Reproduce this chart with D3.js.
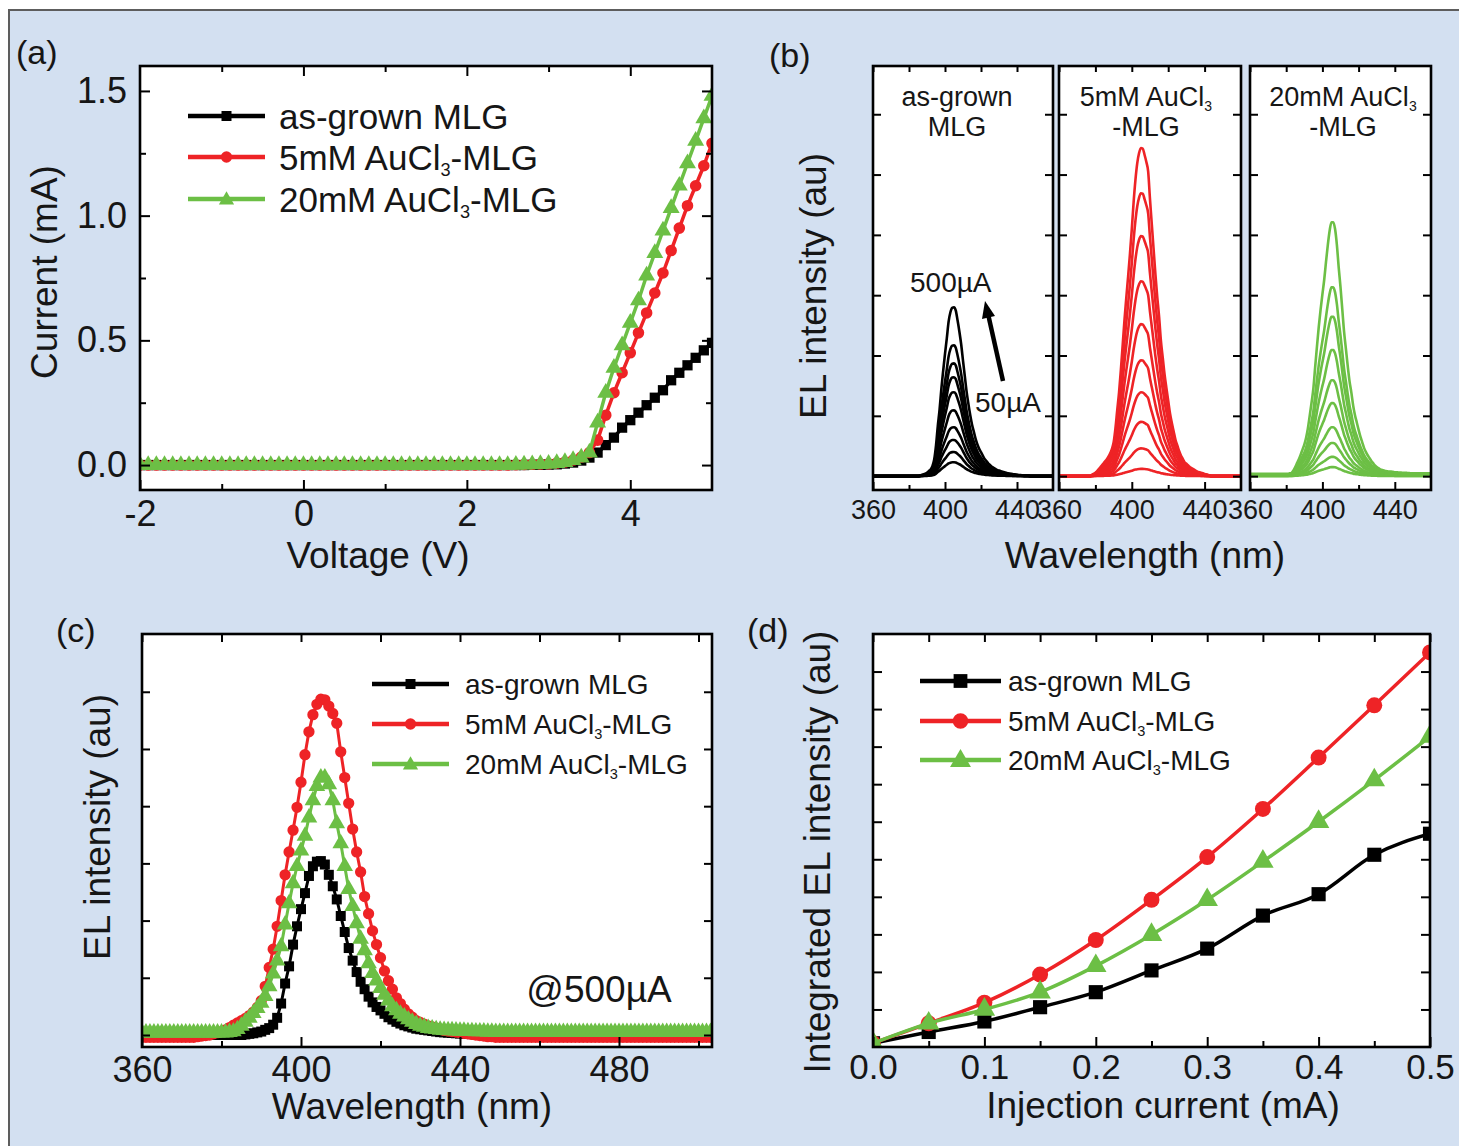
<!DOCTYPE html>
<html>
<head>
<meta charset="utf-8">
<script src="https://cdn.jsdelivr.net/npm/d3@7"></script>
<style>
  body { margin: 0; background: #fff; }
  svg { display: block; }
</style>
</head>
<body>
<svg id="fig" width="1459" height="1146"></svg>
<script>
// ------------------------------------------------------------------
// Data
// ------------------------------------------------------------------
// (a) I–V curves, -2 V … 5 V in 0.1 V steps
const ivVoltage = d3.range(71).map(i => Math.round((-2 + i * 0.1) * 10) / 10);
const ivBlack = [
  0,0,0,0,0,0,0,0,0,0,
  0,0,0,0,0,0,0,0,0,0,
  0,0,0,0,0,0,0,0,0,0,
  0,0,0,0,0,0,0,0,0,0,
  0,0,0,0,0,0,0,0,0.001,0.001,
  0.002,0.003,0.006,0.01,0.018,0.03,0.05,0.08,0.11,0.15,
  0.18,0.21,0.24,0.27,0.30,0.34,0.37,0.40,0.43,0.46,
  0.49];
const ivRed = [
  0,0,0,0,0,0,0,0,0,0,
  0,0,0,0,0,0,0,0,0,0,
  0,0,0,0,0,0,0,0,0,0,
  0,0,0,0,0,0,0,0,0,0,
  0,0,0,0,0,0,0.001,0.002,0.003,0.004,
  0.005,0.008,0.012,0.02,0.032,0.05,0.10,0.20,0.29,0.37,
  0.45,0.53,0.61,0.69,0.77,0.86,0.95,1.04,1.12,1.20,
  1.29];
const ivGreen = [
  0,0,0,0,0,0,0,0,0,0,
  0,0,0,0,0,0,0,0,0,0,
  0,0,0,0,0,0,0,0,0,0,
  0,0,0,0,0,0,0,0,0,0,
  0,0,0,0,0,0,0.001,0.002,0.003,0.004,
  0.005,0.008,0.012,0.02,0.03,0.05,0.17,0.29,0.39,0.48,
  0.57,0.66,0.76,0.85,0.94,1.03,1.12,1.21,1.30,1.39,
  1.48];

// (c) EL spectra at 500 µA, 360 … 503 nm in 1 nm steps
const wavelength = d3.range(360, 504);
const elBlack = [
  0,0,0,0,0,0,0,0,0,0,
  0,0,0,0,0,0,0,0,0,0,
  0,0,0,0,0,0,0.01,0.02,0.03,0.045,
  0.06,0.09,0.12,0.18,0.30,0.55,0.90,1.20,1.58,1.90,
  2.20,2.48,2.78,2.95,3.03,3.04,2.98,2.80,2.60,2.37,
  2.08,1.80,1.52,1.30,1.10,0.93,0.80,0.67,0.57,0.49,
  0.43,0.37,0.31,0.27,0.23,0.20,0.17,0.15,0.13,0.11,
  0.10,0.09,0.08,0.07,0.06,0.05,0.045,0.04,0.035,0.03,
  0.025,0.02,0.02,0.015,0.01,0.01,0.01,0.005,0,0,
  0,0,0,0,0,0,0,0,0,0,
  0,0,0,0,0,0,0,0,0,0,
  0,0,0,0,0,0,0,0,0,0,
  0,0,0,0,0,0,0,0,0,0,
  0,0,0,0,0,0,0,0,0,0,
  0,0,0,0];
const elRed = [
  -0.04,-0.04,-0.04,-0.04,-0.04,-0.04,-0.04,-0.04,-0.04,-0.04,
  -0.04,-0.04,-0.04,-0.04,-0.03,-0.02,-0.01,0,0.02,0.04,
  0.06,0.09,0.13,0.17,0.21,0.25,0.29,0.34,0.40,0.48,
  0.60,0.85,1.18,1.50,1.90,2.35,2.80,3.20,3.58,3.98,
  4.42,4.90,5.30,5.60,5.78,5.87,5.86,5.75,5.62,5.45,
  4.95,4.50,4.05,3.60,3.20,2.85,2.42,2.12,1.82,1.58,
  1.35,1.12,0.95,0.80,0.65,0.55,0.45,0.37,0.31,0.25,
  0.22,0.19,0.16,0.14,0.12,0.10,0.08,0.07,0.06,0.05,
  0.04,0.03,0.02,0.01,0,-0.01,-0.02,-0.03,-0.03,-0.04,
  -0.04,-0.04,-0.04,-0.04,-0.04,-0.04,-0.04,-0.04,-0.04,-0.04,
  -0.04,-0.04,-0.04,-0.04,-0.04,-0.04,-0.04,-0.04,-0.04,-0.04,
  -0.04,-0.04,-0.04,-0.04,-0.04,-0.04,-0.04,-0.04,-0.04,-0.04,
  -0.04,-0.04,-0.04,-0.04,-0.04,-0.04,-0.04,-0.04,-0.04,-0.04,
  -0.04,-0.04,-0.04,-0.04,-0.04,-0.04,-0.04,-0.04,-0.04,-0.04,
  -0.04,-0.04,-0.04,-0.04];
const elGreen = [
  0.04,0.04,0.04,0.04,0.04,0.04,0.04,0.04,0.04,0.04,
  0.04,0.04,0.04,0.04,0.04,0.04,0.04,0.04,0.04,0.04,
  0.04,0.04,0.05,0.06,0.10,0.16,0.23,0.30,0.38,0.47,
  0.56,0.68,0.85,1.07,1.30,1.55,1.93,2.30,2.65,2.95,
  3.22,3.48,3.80,4.10,4.35,4.50,4.50,4.38,4.10,3.70,
  3.35,2.95,2.55,2.25,1.95,1.68,1.48,1.25,1.08,0.95,
  0.82,0.70,0.60,0.50,0.43,0.37,0.32,0.27,0.23,0.19,
  0.16,0.14,0.12,0.11,0.10,0.09,0.085,0.08,0.08,0.075,
  0.07,0.07,0.065,0.065,0.06,0.06,0.06,0.055,0.055,0.05,
  0.05,0.05,0.05,0.05,0.05,0.05,0.05,0.05,0.05,0.05,
  0.05,0.05,0.05,0.05,0.05,0.05,0.05,0.05,0.05,0.05,
  0.05,0.05,0.05,0.05,0.05,0.05,0.05,0.05,0.05,0.05,
  0.05,0.05,0.05,0.05,0.05,0.05,0.05,0.05,0.05,0.05,
  0.05,0.05,0.05,0.05,0.05,0.05,0.05,0.05,0.05,0.05,
  0.05,0.05,0.05,0.05];

// (b) peak EL intensity for each injection current, 50 … 500 µA
const bCurrents = [50, 100, 150, 200, 250, 300, 350, 400, 450, 500];
const bPeakBlack = [0.23, 0.40, 0.60, 0.81, 1.09, 1.39, 1.64, 1.87, 2.17, 2.80];
const bPeakRed   = [0.12, 0.46, 0.90, 1.39, 1.92, 2.52, 3.23, 3.98, 4.69, 5.44];
const bPeakGreen = [0.15, 0.32, 0.55, 0.81, 1.21, 1.59, 2.09, 2.64, 3.13, 4.21];

// (d) integrated EL intensity vs injection current (mA)
const injCurrent = [0, 0.05, 0.10, 0.15, 0.20, 0.25, 0.30, 0.35, 0.40, 0.45, 0.50];
const intBlack = [0.10, 0.40, 0.68, 1.06, 1.46, 2.04, 2.62, 3.50, 4.07, 5.12, 5.68];
const intRed   = [0.10, 0.63, 1.18, 1.93, 2.85, 3.92, 5.06, 6.34, 7.71, 9.10, 10.51];
const intGreen = [0.10, 0.63, 1.00, 1.46, 2.16, 2.99, 3.92, 4.94, 6.00, 7.11, 8.27];

// Tick values
const aXMajor = [0, 2, 4], aXMinor = [-1, 1, 3];
const aYMajor = [0, 0.5, 1.0, 1.5], aYMinor = [0.25, 0.75, 1.25];
const bXMajor = [360, 400, 440], bXMinor = [380, 420];
const bYTicks = [0, 1, 2, 3, 4, 5, 6];
const cXMajor = [360, 400, 440, 480], cXMinor = [380, 420, 460, 500];
const cYTicks = [0, 1, 2, 3, 4, 5, 6];
const dXMajor = [0, 0.1, 0.2, 0.3, 0.4, 0.5], dXMinor = [0.05, 0.15, 0.25, 0.35, 0.45];
const dYTicks = [1, 2, 3, 4, 5, 6, 7, 8, 9, 10];

// Legend labels: [text, isSubscript]
const seriesLabels = [
  [["as-grown MLG", false]],
  [["5mM AuCl", false], ["3", true], ["-MLG", false]],
  [["20mM AuCl", false], ["3", true], ["-MLG", false]]
];

// ------------------------------------------------------------------
// Styling helpers
// ------------------------------------------------------------------
const FONT = '"Liberation Sans", Arial, Helvetica, sans-serif';
const INK = "#161616";
const COLORS = ["#000000", "#ee2326", "#6cbf45"];
const SYMBOLS = [d3.symbolSquare, d3.symbolCircle, d3.symbolTriangle];

const svg = d3.select("#fig");
const defs = svg.append("defs");

// page background with the framed light-blue field
svg.append("rect").attr("x", 9).attr("y", 10).attr("width", 1450).attr("height", 1136).attr("fill", "#d3e0f1");
svg.append("path").attr("d", "M9,1146V10H1459").attr("fill", "none").attr("stroke", "#5d5d5d").attr("stroke-width", 2);

function richText(sel, parts, fs) {
  parts.forEach(([s, sub], i) => {
    const t = sel.append("tspan").text(s);
    if (sub) t.attr("font-size", fs * 0.52).attr("dy", fs * 0.17);
    else if (i > 0 && parts[i - 1][1]) t.attr("dy", -fs * 0.17);
  });
  return sel;
}

function text(g, x, y, str, fs, anchor, rotate) {
  const t = g.append("text")
    .attr("font-family", FONT).attr("font-size", fs).attr("fill", INK)
    .attr("text-anchor", anchor || "start")
    .text(str);
  if (rotate) t.attr("transform", `translate(${x},${y}) rotate(${rotate})`);
  else t.attr("x", x).attr("y", y);
  return t;
}

let clipCount = 0;
function makePanel(box) {
  const g = svg.append("g");
  g.append("rect").attr("x", box.x0).attr("y", box.y0)
    .attr("width", box.x1 - box.x0).attr("height", box.y1 - box.y0).attr("fill", "#fff");
  const id = "clip" + (clipCount++);
  defs.append("clipPath").attr("id", id).append("rect")
    .attr("x", box.x0).attr("y", box.y0).attr("width", box.x1 - box.x0).attr("height", box.y1 - box.y0);
  const plot = g.append("g").attr("clip-path", `url(#${id})`);
  return { g, plot };
}

function axis(g, axisFn, scale, vals, len, tr, fmt, fs, pad) {
  const a = axisFn(scale).tickValues(vals).tickSizeInner(-len).tickSizeOuter(0)
    .tickPadding(pad || 0).tickFormat(fmt || (() => ""));
  const s = g.append("g").attr("transform", tr).call(a);
  s.select(".domain").remove();
  s.attr("font-family", FONT).attr("font-size", fs || 10);
  s.selectAll(".tick line").attr("stroke", "#000").attr("stroke-width", 2);
  s.selectAll(".tick text").attr("fill", INK);
  return s;
}

function frame(g, box) {
  g.append("rect").attr("x", box.x0).attr("y", box.y0)
    .attr("width", box.x1 - box.x0).attr("height", box.y1 - box.y0)
    .attr("fill", "none").attr("stroke", "#000").attr("stroke-width", 2.6);
}

function legend(g, x0, x1, xText, ys, fs, symSize, lineW) {
  seriesLabels.forEach((parts, i) => {
    const y = ys[i];
    g.append("line").attr("x1", x0).attr("x2", x1).attr("y1", y).attr("y2", y)
      .attr("stroke", COLORS[i]).attr("stroke-width", lineW);
    g.append("path").attr("d", d3.symbol().type(SYMBOLS[i]).size(symSize)())
      .attr("transform", `translate(${(x0 + x1) / 2},${y + (i === 2 ? 1 : 0)})`).attr("fill", COLORS[i]);
    const t = g.append("text").attr("x", xText).attr("y", y + fs * 0.36)
      .attr("font-family", FONT).attr("font-size", fs).attr("fill", INK);
    richText(t, parts, fs);
  });
}

function series(plot, xs, ys, x, y, color, sym, symSize, lineW, curve) {
  const pts = xs.map((v, i) => [x(v), y(ys[i])]);
  plot.append("path").attr("d", d3.line().curve(curve || d3.curveLinear)(pts))
    .attr("fill", "none").attr("stroke", color).attr("stroke-width", lineW).attr("stroke-linejoin", "round");
  plot.append("g").selectAll("path").data(pts).join("path")
    .attr("d", d3.symbol().type(sym).size(symSize)())
    .attr("transform", d => `translate(${d[0]},${d[1]})`)
    .attr("fill", color);
}

// ------------------------------------------------------------------
// (a) Current–voltage
// ------------------------------------------------------------------
{
  const box = { x0: 140, x1: 712, y0: 66, y1: 490 };
  const x = d3.scaleLinear().domain([-2, 5]).range([box.x0, box.x1]);
  const y = d3.scaleLinear().domain([-0.1, 1.6]).range([box.y1, box.y0]);
  const { g, plot } = makePanel(box);

  [ivBlack, ivRed, ivGreen].forEach((vals, i) =>
    series(plot, ivVoltage, vals, x, y, COLORS[i], SYMBOLS[i], i === 2 ? 125 : 105, 3.5));

  axis(g, d3.axisBottom, x, [-2, ...aXMajor], 10, `translate(0,${box.y1})`, d => String(d), 36, 10);
  axis(g, d3.axisBottom, x, aXMinor, 6, `translate(0,${box.y1})`);
  axis(g, d3.axisTop, x, aXMajor, 10, `translate(0,${box.y0})`);
  axis(g, d3.axisTop, x, aXMinor, 6, `translate(0,${box.y0})`);
  axis(g, d3.axisLeft, y, aYMajor, 10, `translate(${box.x0},0)`, d3.format(".1f"), 36, 13);
  axis(g, d3.axisLeft, y, aYMinor, 6, `translate(${box.x0},0)`);
  axis(g, d3.axisRight, y, aYMajor, 10, `translate(${box.x1},0)`);
  axis(g, d3.axisRight, y, aYMinor, 6, `translate(${box.x1},0)`);
  frame(g, box);

  legend(g, 188, 265, 279, [116, 157, 199], 35, 100, 4.5);
  text(g, 378, 568, "Voltage (V)", 37, "middle");
  text(g, 57, 272, "Current (mA)", 37, "middle", -90);
  text(svg, 16, 64, "(a)", 34);
}

// ------------------------------------------------------------------
// (b) Current-dependent EL spectra, three samples side by side
// ------------------------------------------------------------------
{
  const y0 = 66, y1 = 490;
  const subs = [
    { x0: 873, x1: 1053, peaks: bPeakBlack, spec: elBlack, color: COLORS[0],
      title: [[["as-grown", false]], [["MLG", false]]], tx: 957 },
    { x0: 1059, x1: 1241, peaks: bPeakRed, spec: elRed, color: COLORS[1],
      title: [[["5mM AuCl", false], ["3", true]], [["-MLG", false]]], tx: 1146 },
    { x0: 1250, x1: 1431, peaks: bPeakGreen, spec: elGreen, color: COLORS[2],
      title: [[["20mM AuCl", false], ["3", true]], [["-MLG", false]]], tx: 1343 }
  ];
  subs.forEach(s => {
    const box = { x0: s.x0, x1: s.x1, y0, y1 };
    const x = d3.scaleLinear().domain([360, 460]).range([box.x0, box.x1]);
    const y = d3.scaleLinear().domain([-0.23, 6.8]).range([box.y1, box.y0]);
    const { g, plot } = makePanel(box);

    // spectral shape of the 500 µA trace, scaled to each current's peak
    const top = d3.max(s.spec);
    const shape = wavelength.map((w, i) => [w, Math.max(s.spec[i], 0) / top]).filter(d => d[0] <= 462);
    const line = d3.line().x(d => x(d[0])).y(d => y(d[1])).curve(d3.curveMonotoneX);
    s.peaks.forEach(p => {
      plot.append("path").attr("d", line(shape.map(d => [d[0], d[1] * p])))
        .attr("fill", "none").attr("stroke", s.color).attr("stroke-width", 2.6);
    });

    axis(g, d3.axisBottom, x, bXMajor, 8, `translate(0,${y1})`, d => String(d), 27, 10);
    axis(g, d3.axisBottom, x, bXMinor, 5, `translate(0,${y1})`);
    axis(g, d3.axisTop, x, bXMajor.concat(bXMinor), 6, `translate(0,${y0})`);
    axis(g, d3.axisLeft, y, bYTicks, 8, `translate(${box.x0},0)`);
    axis(g, d3.axisRight, y, bYTicks, 8, `translate(${box.x1},0)`);
    frame(g, box);

    s.title.forEach((parts, k) => {
      const t = g.append("text").attr("x", s.tx).attr("y", 106 + k * 30)
        .attr("text-anchor", "middle").attr("font-family", FONT).attr("font-size", 27).attr("fill", INK);
      richText(t, parts, 27);
    });
  });

  // current sweep annotation
  const ann = svg.append("g");
  text(ann, 910, 292, "500µA", 28);
  text(ann, 975, 412, "50µA", 28);
  ann.append("line").attr("x1", 1003).attr("y1", 381).attr("x2", 988.5).attr("y2", 316)
    .attr("stroke", "#000").attr("stroke-width", 4.5);
  ann.append("path").attr("d", "M985,301L995,316L982,319Z").attr("fill", "#000");

  text(svg, 1145, 568, "Wavelength (nm)", 37, "middle");
  text(svg, 826, 286, "EL intensity (au)", 37, "middle", -90);
  text(svg, 769, 67, "(b)", 34);
}

// ------------------------------------------------------------------
// (c) EL spectra at 500 µA
// ------------------------------------------------------------------
{
  const box = { x0: 142, x1: 712, y0: 634, y1: 1047 };
  const x = d3.scaleLinear().domain([360, 503.4]).range([box.x0, box.x1]);
  const y = d3.scaleLinear().domain([-0.21, 7.01]).range([box.y1, box.y0]);
  const { g, plot } = makePanel(box);

  [elBlack, elRed, elGreen].forEach((vals, i) =>
    series(plot, wavelength, vals, x, y, COLORS[i], SYMBOLS[i], i === 2 ? 120 : 100, 3));

  axis(g, d3.axisBottom, x, cXMajor, 10, `translate(0,${box.y1})`, d => String(d), 36, 9);
  axis(g, d3.axisBottom, x, cXMinor, 6, `translate(0,${box.y1})`);
  axis(g, d3.axisTop, x, cXMajor.concat(cXMinor), 8, `translate(0,${box.y0})`);
  axis(g, d3.axisLeft, y, cYTicks, 8, `translate(${box.x0},0)`);
  axis(g, d3.axisRight, y, cYTicks, 8, `translate(${box.x1},0)`);
  frame(g, box);

  legend(g, 372, 449, 465, [684, 724, 764], 28, 100, 4.5);
  text(g, 599, 1002, "@500µA", 37, "middle");
  text(g, 412, 1119, "Wavelength (nm)", 37, "middle");
  text(g, 110, 827, "EL intensity (au)", 37, "middle", -90);
  text(svg, 56, 642, "(c)", 34);
}

// ------------------------------------------------------------------
// (d) Integrated EL intensity vs injection current
// ------------------------------------------------------------------
{
  const box = { x0: 873, x1: 1430, y0: 634, y1: 1047 };
  const x = d3.scaleLinear().domain([0, 0.5]).range([box.x0, box.x1]);
  const y = d3.scaleLinear().domain([0, 11]).range([box.y1, box.y0]);
  const { g, plot } = makePanel(box);

  [intBlack, intRed, intGreen].forEach((vals, i) =>
    series(plot, injCurrent, vals, x, y, COLORS[i], SYMBOLS[i], i === 2 ? 200 : 200, 3.5, d3.curveMonotoneX));

  axis(g, d3.axisBottom, x, dXMajor, 10, `translate(0,${box.y1})`, d3.format(".1f"), 35, 7);
  axis(g, d3.axisBottom, x, dXMinor, 6, `translate(0,${box.y1})`);
  axis(g, d3.axisTop, x, dXMajor.concat(dXMinor), 8, `translate(0,${box.y0})`);
  axis(g, d3.axisLeft, y, dYTicks, 9, `translate(${box.x0},0)`);
  axis(g, d3.axisRight, y, dYTicks, 9, `translate(${box.x1},0)`);
  frame(g, box);

  legend(g, 920, 1001, 1008, [681, 721, 760], 28, 190, 4.5);
  text(g, 1163, 1118, "Injection current (mA)", 37, "middle");
  text(g, 830, 852, "Integrated EL intensity (au)", 37, "middle", -90);
  text(svg, 747, 642, "(d)", 34);
}
</script>
</body>
</html>
